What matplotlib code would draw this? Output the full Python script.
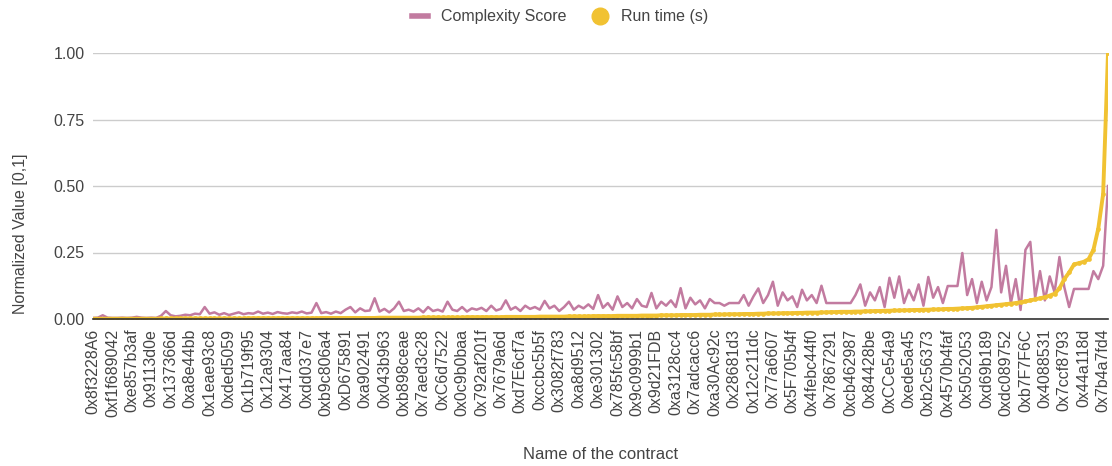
import matplotlib.pyplot as plt
from matplotlib.lines import Line2D

plt.rcParams['font.family'] = ['Liberation Sans', 'DejaVu Sans']

# 横轴上显示的合约名（每隔4个合约显示一个）
tick_labels = [
    '0x8f3228A6', '0xf1f689042', '0xe857b3af', '0x9113d0e', '0x137366d', '0xa8e44bb',
    '0x1eae93c8', '0xded5059', '0x1b719f95', '0x12a9304', '0x417aa84', '0xdd037e7',
    '0xb9c806a4', '0xD675891', '0xa902491', '0x043b963', '0xb898ceae', '0x7aed3c28',
    '0xC6d7522', '0x0c9b0baa', '0x792af201f', '0x7679a6d', '0xd7E6cf7a', '0xccbc5b5f',
    '0x3082f783', '0xa8d9512', '0xe301302', '0x785fc58bf', '0x9c0999b1', '0x9d21FDB',
    '0xa3128cc4', '0x7adcacc6', '0xa30Ac92c', '0x28681d3', '0x12c211dc', '0x77a6607',
    '0x5F705b4f', '0x4febc44f0', '0x7867291', '0xcb462987', '0x84428be', '0xCCe54a9',
    '0xede5a45', '0xb2c56373', '0x4570b4faf', '0x5052053', '0xd69b189', '0xdc089752',
    '0xb7F7F6C', '0x4088531', '0x7ccf8793', '0x44a118d', '0x7b4a7fd4',
]
label_step = 4

# 复杂度得分（归一化）
complexity = [
    0.004, 0.005, 0.014, 0.005, 0.004, 0.004, 0.005, 0.004, 0.005, 0.008,
    0.005, 0.004, 0.005, 0.004, 0.012, 0.030, 0.014, 0.010, 0.012, 0.016,
    0.014, 0.020, 0.018, 0.045, 0.020, 0.025, 0.016, 0.022, 0.015, 0.020,
    0.025, 0.018, 0.022, 0.020, 0.028, 0.020, 0.024, 0.019, 0.026, 0.022,
    0.020, 0.025, 0.022, 0.028, 0.021, 0.024, 0.060, 0.022, 0.026, 0.020,
    0.028, 0.022, 0.035, 0.045, 0.025, 0.040, 0.030, 0.032, 0.078, 0.028,
    0.038, 0.025, 0.040, 0.065, 0.030, 0.035, 0.028, 0.040, 0.025, 0.045,
    0.030, 0.035, 0.028, 0.065, 0.035, 0.030, 0.045, 0.028, 0.040, 0.035,
    0.042, 0.030, 0.050, 0.032, 0.038, 0.070, 0.035, 0.045, 0.030, 0.050,
    0.038, 0.045, 0.035, 0.068, 0.040, 0.050, 0.030, 0.045, 0.065, 0.035,
    0.050, 0.040, 0.055, 0.038, 0.090, 0.042, 0.060, 0.035, 0.085, 0.045,
    0.060, 0.040, 0.075, 0.050, 0.045, 0.098, 0.040, 0.065, 0.050, 0.070,
    0.045, 0.116, 0.040, 0.080, 0.055, 0.070, 0.040, 0.075, 0.060, 0.060,
    0.050, 0.060, 0.060, 0.060, 0.090, 0.050, 0.085, 0.115, 0.060, 0.090,
    0.140, 0.050, 0.100, 0.070, 0.085, 0.045, 0.110, 0.070, 0.090, 0.060,
    0.125, 0.060, 0.060, 0.060, 0.060, 0.060, 0.060, 0.090, 0.130, 0.050,
    0.100, 0.070, 0.120, 0.045, 0.155, 0.080, 0.160, 0.060, 0.110, 0.070,
    0.130, 0.050, 0.158, 0.080, 0.120, 0.060, 0.124, 0.124, 0.124, 0.248,
    0.090, 0.150, 0.060, 0.140, 0.070, 0.120, 0.335, 0.100, 0.200, 0.060,
    0.150, 0.034, 0.260, 0.290, 0.080, 0.180, 0.070, 0.160, 0.100, 0.233,
    0.120, 0.045, 0.113, 0.113, 0.113, 0.113, 0.180, 0.150, 0.200, 0.500,
]

# 运行时间（归一化）
run_time = [
    0.001, 0.001, 0.001, 0.001, 0.001, 0.001, 0.001, 0.001, 0.001, 0.001,
    0.001, 0.001, 0.001, 0.001, 0.002, 0.002, 0.002, 0.002, 0.002, 0.002,
    0.002, 0.002, 0.002, 0.002, 0.002, 0.002, 0.002, 0.002, 0.002, 0.002,
    0.002, 0.002, 0.003, 0.003, 0.003, 0.003, 0.003, 0.003, 0.003, 0.003,
    0.003, 0.003, 0.003, 0.003, 0.003, 0.003, 0.003, 0.004, 0.004, 0.004,
    0.004, 0.004, 0.004, 0.004, 0.004, 0.004, 0.004, 0.004, 0.004, 0.005,
    0.005, 0.005, 0.005, 0.005, 0.005, 0.005, 0.005, 0.005, 0.006, 0.006,
    0.006, 0.006, 0.006, 0.006, 0.006, 0.006, 0.006, 0.007, 0.007, 0.007,
    0.007, 0.007, 0.007, 0.007, 0.007, 0.008, 0.008, 0.008, 0.008, 0.008,
    0.008, 0.008, 0.009, 0.009, 0.009, 0.009, 0.009, 0.009, 0.010, 0.010,
    0.010, 0.010, 0.010, 0.011, 0.011, 0.011, 0.011, 0.011, 0.012, 0.012,
    0.012, 0.012, 0.012, 0.013, 0.013, 0.013, 0.013, 0.014, 0.014, 0.014,
    0.014, 0.015, 0.015, 0.015, 0.015, 0.016, 0.016, 0.016, 0.017, 0.017,
    0.017, 0.018, 0.018, 0.018, 0.019, 0.019, 0.019, 0.020, 0.020, 0.021,
    0.021, 0.021, 0.022, 0.022, 0.022, 0.023, 0.023, 0.024, 0.024, 0.024,
    0.025, 0.025, 0.026, 0.026, 0.027, 0.027, 0.027, 0.028, 0.028, 0.029,
    0.029, 0.030, 0.030, 0.031, 0.031, 0.032, 0.032, 0.033, 0.033, 0.034,
    0.034, 0.035, 0.035, 0.036, 0.036, 0.037, 0.038, 0.038, 0.039, 0.040,
    0.041, 0.042, 0.044, 0.046, 0.048, 0.050, 0.052, 0.054, 0.056, 0.058,
    0.060, 0.063, 0.066, 0.070, 0.074, 0.078, 0.082, 0.088, 0.095, 0.115,
    0.150, 0.175, 0.205, 0.210, 0.215, 0.225, 0.260, 0.340, 0.470, 1.000,
]

pink = '#c27ba0'
yellow = '#f1c232'
text_color = '#444444'

x = list(range(len(complexity)))

fig = plt.figure(figsize=(11.12, 4.66), dpi=100)
ax = fig.add_axes([93 / 1112, 1 - 319 / 466, 1015 / 1112, 266 / 466])

ax.plot(x, complexity, color=pink, lw=1.8, zorder=3)
ax.plot(x, run_time, color=yellow, lw=2.8, marker='o', markersize=3.4,
        markeredgewidth=0, zorder=4)

ax.set_xlim(0, len(x) - 1)
ax.set_ylim(0, 1)
ax.set_yticks([0, 0.25, 0.5, 0.75, 1.0])
ax.set_yticklabels(['0.00', '0.25', '0.50', '0.75', '1.00'])
ax.set_xticks(range(0, label_step * len(tick_labels), label_step))
ax.set_xticklabels(tick_labels, rotation=90)
ax.tick_params(axis='both', length=0, colors=text_color)
ax.tick_params(axis='y', pad=6, labelsize=11.5)
ax.tick_params(axis='x', pad=7, labelsize=11.5)

ax.grid(axis='y', color='#cccccc', lw=1, zorder=0)
for s in ['left', 'right', 'top']:
    ax.spines[s].set_visible(False)
ax.spines['bottom'].set_color('#333333')
ax.spines['bottom'].set_linewidth(1.2)
ax.spines['bottom'].set_zorder(5)

ax.set_ylabel('Normalized Value [0,1]', fontsize=11.5, color=text_color)
ax.yaxis.set_label_coords(-65 / 1015, (319 - 234) / 266)
ax.set_xlabel('Name of the contract', fontsize=12, color=text_color)
ax.xaxis.set_label_coords(0.5, (319 - 447) / 266)

handles = [
    Line2D([], [], color=pink, lw=4),
    Line2D([], [], color=yellow, marker='o', linestyle='none', markersize=12),
]
fig.legend(handles, ['Complexity Score', 'Run time (s)'], loc='center',
           bbox_to_anchor=(560 / 1112, 1 - 17 / 466), ncol=2, frameon=False,
           fontsize=11.5, labelcolor=text_color, handlelength=1.0,
           columnspacing=1.6, handletextpad=0.8)

fig.savefig('out.png', dpi=100)
